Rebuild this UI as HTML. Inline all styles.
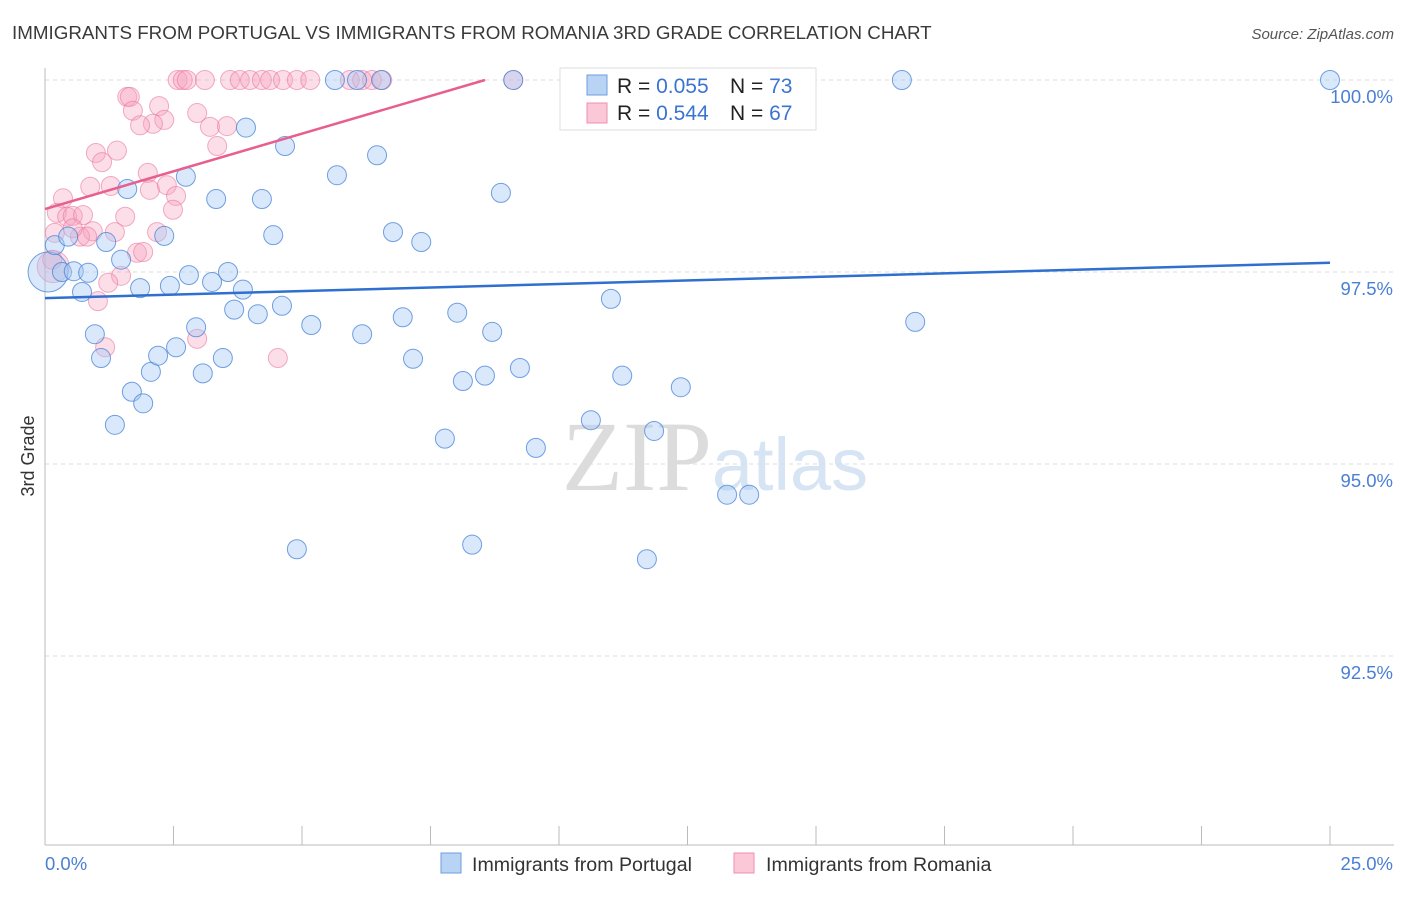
<!DOCTYPE html>
<html><head><meta charset="utf-8"><style>
body{margin:0;background:#fff;font-family:"Liberation Sans",sans-serif}
svg text{font-family:"Liberation Sans",sans-serif}
</style></head><body>
<svg id="c" width="1406" height="892" xmlns="http://www.w3.org/2000/svg">
<text x="12" y="39" font-size="18.8" fill="#3a3a3a">IMMIGRANTS FROM PORTUGAL VS IMMIGRANTS FROM ROMANIA 3RD GRADE CORRELATION CHART</text>
<text x="1394" y="39" font-size="15" fill="#555" text-anchor="end" font-style="italic">Source: ZipAtlas.com</text>
<text x="715" y="490" font-size="100" fill="#e4e4e4" text-anchor="middle" font-family="Liberation Serif"><tspan font-family="Liberation Serif" fill="#dcdcdc">ZIP</tspan><tspan font-family="Liberation Sans" fill="#d6e4f4" font-size="74">atlas</tspan></text>
<text transform="translate(34,456) rotate(-90)" font-size="18" fill="#333" text-anchor="middle">3rd Grade</text>
<g id="grid"></g><g id="axes"></g><g id="pts"></g><g id="lines"></g>
<g>
<rect x="560" y="68" width="256" height="62" fill="#fff" stroke="#ddd"/>
<rect x="587" y="75" width="20" height="20" fill="#b9d3f5" stroke="#6d9fe0"/>
<rect x="587" y="103" width="20" height="20" fill="#fbc8d7" stroke="#ec8fae"/>
<text x="617" y="93" font-size="21" fill="#222">R = <tspan fill="#3b74d0">0.055</tspan><tspan x="730">N = </tspan><tspan fill="#3b74d0">73</tspan></text>
<text x="617" y="120" font-size="21" fill="#222">R = <tspan fill="#3b74d0">0.544</tspan><tspan x="730">N = </tspan><tspan fill="#3b74d0">67</tspan></text>
</g>
<g>
<rect x="441" y="853" width="20" height="20" fill="#b9d3f5" stroke="#6d9fe0"/>
<text x="472" y="871" font-size="19.6" fill="#333">Immigrants from Portugal</text>
<rect x="734" y="853" width="20" height="20" fill="#fbc8d7" stroke="#ec8fae"/>
<text x="766" y="871" font-size="19.6" fill="#333">Immigrants from Romania</text>
</g>
</svg>
<script>
const blueX=[0.06,0.19,0.33,0.56,0.84,0.45,0.72,0.97,1.09,1.19,1.48,1.60,1.69,1.85,1.91,1.36,2.06,2.20,2.32,2.43,2.55,2.74,2.80,2.94,3.07,3.25,3.33,3.46,3.56,3.68,3.85,3.91,4.14,4.22,4.44,4.61,4.67,4.90,5.18,5.68,5.64,6.07,6.17,6.46,6.54,6.77,6.96,7.16,7.32,7.78,8.02,8.13,8.31,8.56,8.70,8.87,9.11,9.24,9.55,10.62,11.01,11.23,11.71,11.85,12.37,13.27,13.70,13.85,16.67,16.93,25.0];
const blueY=[97.50,97.85,97.50,97.51,97.49,97.96,97.24,96.69,96.38,97.89,97.66,98.58,95.94,97.29,95.79,95.51,96.20,96.41,97.97,97.32,96.52,98.74,97.46,96.78,96.18,97.37,98.45,96.38,97.50,97.01,97.27,99.38,96.95,98.45,97.98,97.06,99.14,93.89,96.81,98.76,100,100,96.69,99.02,100,98.02,96.91,96.37,97.89,95.33,96.97,96.08,93.95,96.15,96.72,98.53,100,96.25,95.21,95.57,97.15,96.15,93.76,95.43,96.00,94.60,94.60,100,100,96.85,100];
const pinkX=[1.60,1.65,1.71,2.22,2.32,2.10,1.85,2.96,3.21,3.54,3.35,0.99,1.40,1.11,0.88,1.28,2.00,2.04,2.37,2.55,2.49,0.35,0.23,0.43,0.54,0.74,1.56,0.93,1.36,0.19,0.68,0.82,2.18,1.79,1.91,0.16,0.14,1.48,1.23,1.03,1.17,2.96,4.53,0.54,2.58,2.68,2.76,3.11,3.60,3.79,3.99,4.22,4.38,4.63,4.90,5.16,5.93,6.17,6.36,6.56,9.11];
const pinkY=[99.78,99.78,99.60,99.66,99.48,99.43,99.41,99.57,99.39,99.40,99.14,99.05,99.08,98.93,98.61,98.62,98.79,98.57,98.63,98.49,98.31,98.46,98.27,98.22,98.23,98.24,98.22,98.03,98.02,98.01,97.96,97.96,98.02,97.75,97.76,97.57,97.66,97.45,97.36,97.12,96.52,96.63,96.38,98.07,100,100,100,100,100,100,100,100,100,100,100,100,100,100,100,100,100];
const yTicks=[100,97.5,95,92.5];
const yTickLabels=["100.0%","97.5%","95.0%","92.5%"];
const xTicks=[0,2.5,5,7.5,10,12.5,15,17.5,20,22.5,25];
const xTickLabels=["0.0%","25.0%"];
const blueTrend=[97.16,97.62];
const pinkTrend=[98.32,100,8.56];
const NS="http://www.w3.org/2000/svg";
const X=v=>45+v/25*1285, Y=v=>80+(100-v)*76.8;
function mk(tag,at,parent){const e=document.createElementNS(NS,tag);for(const k in at)e.setAttribute(k,at[k]);document.getElementById(parent).appendChild(e);return e;}
yTicks.forEach((t,i)=>{
 let l=mk('line',{x1:45,x2:1394,y1:Y(t),y2:Y(t),stroke:'#dcdcdc','stroke-dasharray':'4,4'},'grid');
 
 
 let tx=mk('text',{x:1393,y:Y(t)+23,'font-size':18.5,fill:'#4a7fd4','text-anchor':'end'},'axes');
 tx.textContent=yTickLabels[i];
 
 
});
let ax=mk('line',{x1:45,x2:45,y1:68,y2:845,stroke:'#bbb'},'axes');


let bx=mk('line',{x1:45,x2:1394,y1:845,y2:845,stroke:'#bbb'},'axes');


xTicks.forEach(t=>{let l=mk('line',{x1:X(t),x2:X(t),y1:826,y2:845,stroke:'#bbb'},'axes');
 
 });
let t0=mk('text',{x:45,y:870,'font-size':18.5,fill:'#4a7fd4'},'axes');t0.textContent=xTickLabels[0];


let t1=mk('text',{x:1393,y:870,'font-size':18.5,fill:'#4a7fd4','text-anchor':'end'},'axes');t1.textContent=xTickLabels[1];


pinkX.forEach((v,i)=>{let r=(i==35)?16:9.5;let c=mk('circle',{cx:X(v),cy:Y(pinkY[i]),r:r,fill:'rgba(246,160,190,0.35)',stroke:'rgba(234,120,160,0.6)','stroke-width':1},'pts');
 
 });
blueX.forEach((v,i)=>{let r=(i==0)?20:9.5;let c=mk('circle',{cx:X(v),cy:Y(blueY[i]),r:r,fill:'rgba(165,200,242,0.42)',stroke:'rgba(70,130,215,0.75)','stroke-width':1},'pts');
 
 });
let bl=mk('line',{x1:X(0),y1:Y(blueTrend[0]),x2:X(25),y2:Y(blueTrend[1]),stroke:'#2f6fd0','stroke-width':2.5},'lines');


let pl=mk('line',{x1:X(0),y1:Y(pinkTrend[0]),x2:X(pinkTrend[2]),y2:Y(pinkTrend[1]),stroke:'#e85e8c','stroke-width':2.5},'lines');


</script>
</body></html>
